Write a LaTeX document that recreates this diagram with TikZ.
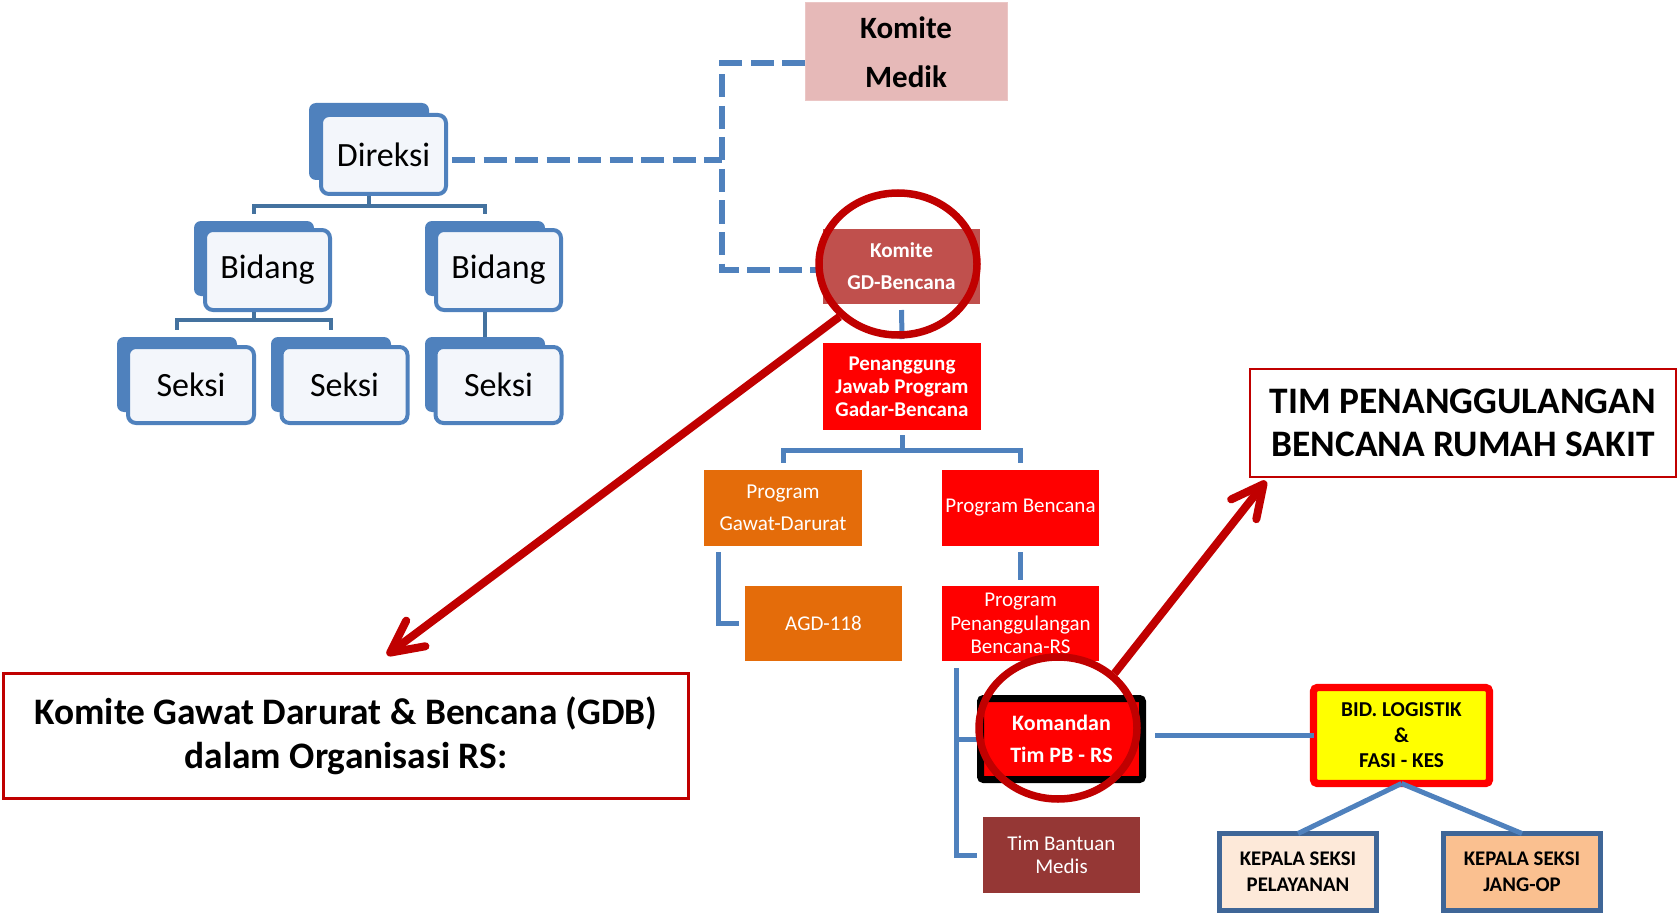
\documentclass[tikz,border=0pt]{standalone}
\usepackage{fontspec}
\setmainfont{Carlito}
\usetikzlibrary{arrows.meta,shapes.geometric}
\definecolor{ob}{HTML}{4F81BD}
\definecolor{obf}{HTML}{F3F6FB}
\definecolor{ol}{HTML}{44729F}
\definecolor{dr}{HTML}{C00000}
\definecolor{kmfill}{HTML}{E6B9B8}
\definecolor{kmdraw}{HTML}{EBC6C5}
\definecolor{gdfill}{HTML}{C0504D}
\definecolor{rd}{HTML}{FF0000}
\definecolor{org}{HTML}{E46C0A}
\definecolor{tbm}{HTML}{953735}
\definecolor{yl}{HTML}{FFFF00}
\definecolor{kpdraw}{HTML}{3F6697}
\definecolor{kpa}{HTML}{FDE9D9}
\definecolor{kpb}{HTML}{FAC090}
\begin{document}
\begin{tikzpicture}[x=0.5pt,y=-0.5pt,
  backbox/.style={fill=ob, rounded corners=3.5pt, inner sep=0pt, outer sep=0pt, minimum width=60pt, minimum height=37.5pt},
  frontbox/.style={draw=ob, line width=2pt, fill=obf, rounded corners=4pt, inner sep=0pt, minimum width=62.5pt, minimum height=40pt, font=\fontsize{17pt}{20pt}\selectfont},
  orgline/.style={draw=ol, line width=2.3pt},
  dashline/.style={draw=ob, line width=3.3pt, dash pattern=on 11.5pt off 4.25pt},
  fbox/.style={inner sep=0pt, outer sep=0pt, align=center, text=white},
  smallreg/.style={font=\fontsize{10.5pt}{11.5pt}\selectfont},
  smallbold/.style={font=\fontsize{10.5pt}{11.5pt}\selectfont\bfseries},
  conn/.style={draw=ob, line width=2.5pt},
  ring/.style={ellipse, draw=dr, line width=3.75pt, minimum width=79pt, minimum height=71pt, inner sep=0pt},
  redarrow/.style={draw=dr, line width=4pt, -{Straight Barb[length=16pt,width=16pt,round]}},
  note/.style={draw=dr, inner sep=0pt, outer sep=0pt, align=center, font=\fontsize{18.7pt}{21.75pt}\selectfont\bfseries}
]
\useasboundingbox (0,0) rectangle (1677,915);

% ---------- classic org chart ----------
\node[backbox, minimum height=38.5pt] (dirb) at (369,141.5) {};
\node[frontbox, minimum height=39.5pt] (dir) at (383.5,154.5) {Direksi};
\node[backbox] (bidLb) at (254,258.5) {};
\node[frontbox] (bidL) at (267.5,270) {Bidang};
\node[backbox] (bidRb) at (485,258.5) {};
\node[frontbox] (bidR) at (498.5,270) {Bidang};
\node[backbox] (s1b) at (177,374.5) {};
\node[frontbox, minimum width=63pt, minimum height=38pt] (s1) at (191,385) {Seksi};
\node[backbox] (s2b) at (331,374.5) {};
\node[frontbox, minimum width=63pt, minimum height=38pt] (s2) at (344.5,385) {Seksi};
\node[backbox] (s3b) at (485,374.5) {};
\node[frontbox, minimum width=63pt, minimum height=38pt] (s3) at (498.5,385) {Seksi};

\coordinate (j1) at (369,206);
\draw[orgline] (dirb |- dir.south) -- (j1);
\draw[orgline, shorten >=3.5pt] (j1) -| (bidLb.north);
\draw[orgline, shorten >=3.5pt] (j1) -| (bidRb.north);
\coordinate (j2) at (254,320);
\draw[orgline] (bidLb |- bidL.south) -- (j2);
\draw[orgline, shorten >=3.5pt] (j2) -| (s1b.north);
\draw[orgline, shorten >=3.5pt] (j2) -| (s2b.north);
\draw[orgline] (bidRb |- bidR.south) -- (s3b.north);

% ---------- committee boxes ----------
\node[fbox, fill=kmfill, draw=kmdraw, line width=0.5pt, text=black, minimum width=101pt, minimum height=49pt, font=\fontsize{15.5pt}{24.5pt}\selectfont\bfseries] (km) at (906,52) {Komite\\Medik};
\node[fbox, fill=gdfill, minimum width=78.5pt, minimum height=37.5pt, font=\fontsize{10.6pt}{16pt}\selectfont\bfseries] (gd) at (901.5,266.5) {Komite\\GD-Bencana};
\node[fbox, smallbold, fill=rd, minimum width=79pt, minimum height=43.5pt] (pj) at (902,386.5) {Penanggung\\Jawab Program\\Gadar-Bencana};
\node[fbox, fill=org, minimum width=79pt, minimum height=38pt, font=\fontsize{10.6pt}{16pt}\selectfont] (gawat) at (783,508) {Program\\Gawat-Darurat};
\node[fbox, smallreg, fill=rd, minimum width=78.5pt, minimum height=38pt] (pb) at (1020.5,508) {Program Bencana};
\node[fbox, smallreg, fill=org, minimum width=78.5pt, minimum height=37.5pt] (agd) at (823.5,623.5) {AGD-118};
\node[fbox, fill=rd, minimum width=78.5pt, minimum height=37.5pt, font=\fontsize{10.5pt}{11.75pt}\selectfont] (ppb) at (1020.5,623.5) {Program\\Penanggulangan\\Bencana-RS};
\node[fbox, fill=rd, draw=black, line width=3.5pt, rounded corners=1.5pt, minimum width=81pt, minimum height=40.5pt, font=\fontsize{11pt}{16pt}\selectfont\bfseries] (kom) at (1061.5,739) {Komandan\\Tim PB - RS};
\node[fbox, smallreg, fill=tbm, minimum width=78.5pt, minimum height=38pt] (tbm) at (1061.5,855) {Tim Bantuan\\Medis};
\node[fbox, fill=yl, draw=rd, line width=3.7pt, rounded corners=2pt, text=black, minimum width=88pt, minimum height=48pt, font=\fontsize{10.6pt}{12.75pt}\selectfont\bfseries] (bid) at (1401.5,735.5) {BID. LOGISTIK\\\&\\FASI - KES};
\node[fbox, fill=kpa, draw=kpdraw, line width=2.5pt, text=black, minimum width=78.5pt, minimum height=38.5pt, font=\fontsize{10.4pt}{13pt}\selectfont\bfseries] (kp1) at (1298,872) {KEPALA SEKSI\\PELAYANAN};
\node[fbox, fill=kpb, draw=kpdraw, line width=2.5pt, text=black, minimum width=78.5pt, minimum height=38.5pt, font=\fontsize{10.4pt}{13pt}\selectfont\bfseries] (kp2) at (1522,872) {KEPALA SEKSI\\JANG-OP};

% ---------- caption boxes ----------
\node[note, line width=1.5pt, minimum width=342.5pt, minimum height=62.5pt] (gdb) at (346,736) {Komite Gawat Darurat \& Bencana (GDB)\\dalam Organisasi RS:};
\node[note, line width=1.2pt, minimum width=213pt, minimum height=54pt] (tim) at (1463,423) {TIM PENANGGULANGAN\\BENCANA RUMAH SAKIT};

% ---------- dashed links ----------
\coordinate (dv1) at (722,63);
\coordinate (dv2) at (722,270);
\coordinate (dm) at (722,160);
\draw[dashline] (km.west |- dv1) -- (dv1) -- (dv2) -- (gd.west |- dv2);
\draw[dashline, shorten <=2pt] (dir.east |- dm) -- (dm);

% ---------- connectors ----------
\draw[conn, shorten <=3pt, shorten >=2pt] (gd.south) -- (pj.north);
\coordinate (j3) at (902,450);
\draw[conn, shorten <=2.5pt] (pj.south) -- (j3);
\draw[conn, shorten >=3.5pt] (j3) -| (gawat.north);
\draw[conn, shorten >=3.5pt] (j3) -| (pb.north);
\draw[conn, shorten <=3pt, shorten >=3pt] ([xshift=7pt]gawat.south west) |- (agd.west);
\draw[conn, shorten <=3pt, shorten >=3pt] (pb.south) -- (ppb.north);
\draw[conn, shorten <=3.5pt, shorten >=1.75pt] ([xshift=7pt]ppb.south west) |- (kom.west);
\draw[conn, shorten <=3.5pt, shorten >=3pt] ([xshift=7pt]ppb.south west) |- (tbm.west);
\draw[conn, shorten <=6.25pt] (kom.east |- bid.west) -- (bid.west);
\draw[conn] (bid.south) -- (kp1.north);
\draw[conn] (bid.south) -- (kp2.north);

% ---------- highlight rings and arrows ----------
\node[ring] (c1) at (898,264) {};
\node[ring] (c2) at (1058,728) {};
\coordinate (t1) at (387,655);
\coordinate (t2) at (1266,481);
\draw[redarrow] (c1.222) -- (t1);
\draw[redarrow] (c2.44) -- (t2);
\end{tikzpicture}
\end{document}
